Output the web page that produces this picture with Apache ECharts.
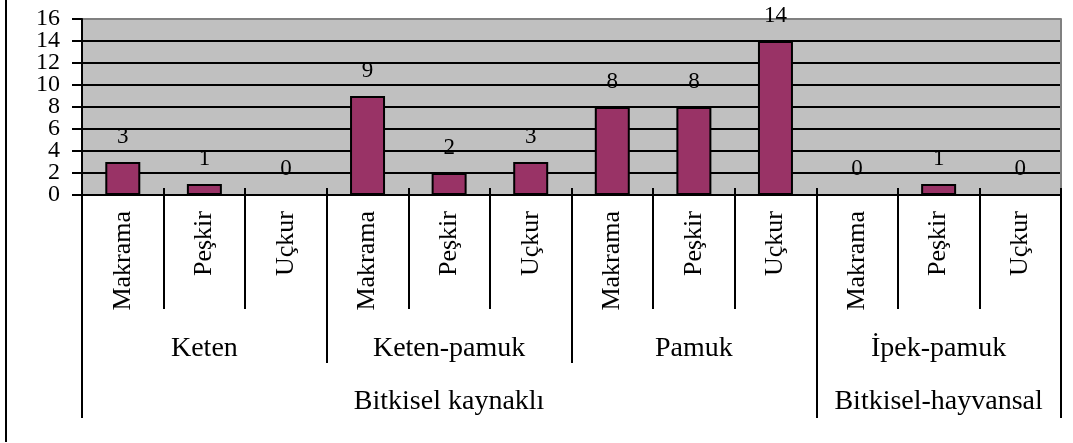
<!DOCTYPE html>
<html>
<head>
<meta charset="utf-8">
<script src="https://cdn.jsdelivr.net/npm/echarts@6/dist/echarts.min.js"></script>
<style>
  html, body { margin: 0; padding: 0; background: #fff; }
  #chart { width: 1073px; height: 443px; }
</style>
</head>
<body>
<div id="chart"></div>
<script>
// kategoriler (alt seviye)
const products = ['Makrama', 'Peşkir', 'Uçkur', 'Makrama', 'Peşkir', 'Uçkur',
  'Makrama', 'Peşkir', 'Uçkur', 'Makrama', 'Peşkir', 'Uçkur']
const counts = [3, 1, 0, 9, 2, 3, 8, 8, 14, 0, 1, 0]
// ikinci seviye: lif türü
const fibres = ['Keten', 'Keten-pamuk', 'Pamuk', 'İpek-pamuk']
// üçüncü seviye: kaynak ve kapsadığı kategori sayısı
const sources = ['Bitkisel kaynaklı', 'Bitkisel-hayvansal']
const sourceSpans = [9, 3]
const yMin = 0
const yMax = 16
const yStep = 2

const font = "'Liberation Serif', 'Times New Roman', serif"

// kaynak ekseni için etiket ve ayraç konumları
const sourceLabels = products.map(() => '')
const sourceBreaks = []
let start = 0
sources.forEach((name, i) => {
  sourceBreaks.push(start)
  sourceLabels[start + Math.floor(sourceSpans[i] / 2)] = name
  start += sourceSpans[i]
})

const chart = echarts.init(document.getElementById('chart'))

const black = { color: '#000', width: 2 }
const plotBox = { left: 82, right: 12, top: 19, bottom: 248 }

// y ekseni etiketleri iki eksene bölünür, böylece hiçbiri gizlenmez
const yLabel = (keep) => ({
  margin: 22,
  color: '#000',
  fontFamily: font,
  fontSize: 24,
  formatter: (v) => (keep(v) ? String(v) : '')
})

const option = {
  animation: false,
  grid: [
    Object.assign({ show: true, backgroundColor: '#c0c0c0', borderWidth: 0 }, plotBox),
    Object.assign({ show: false }, plotBox)
  ],
  graphic: [
    {
      type: 'line',
      shape: { x1: 6, y1: 0, x2: 6, y2: 442 },
      style: { stroke: '#000', lineWidth: 2 }
    }
  ],
  xAxis: [
    // ürünler
    {
      type: 'category',
      gridIndex: 0,
      data: products,
      position: 'bottom',
      axisLine: { show: true, lineStyle: black },
      axisTick: { show: true, interval: 0, length: 114, lineStyle: black },
      axisLabel: {
        show: true,
        interval: 0,
        rotate: 90,
        margin: 16,
        color: '#000',
        fontFamily: font,
        fontSize: 26
      }
    },
    // eksen içindeki kısa çentikler
    {
      type: 'category',
      gridIndex: 0,
      data: products,
      position: 'bottom',
      axisLine: { show: false },
      axisTick: { show: true, interval: 0, inside: true, length: 7, lineStyle: black },
      axisLabel: { show: false }
    },
    // lif türleri
    {
      type: 'category',
      gridIndex: 0,
      data: fibres,
      position: 'bottom',
      axisLine: { show: false },
      axisTick: { show: true, interval: 0, length: 168, lineStyle: black },
      axisLabel: {
        interval: 0,
        margin: 140,
        color: '#000',
        fontFamily: font,
        fontSize: 28
      }
    },
    // kaynak
    {
      type: 'category',
      gridIndex: 0,
      data: sourceLabels,
      position: 'bottom',
      axisLine: { show: false },
      axisTick: {
        show: true,
        interval: (index) => sourceBreaks.includes(index),
        length: 223,
        lineStyle: black
      },
      axisLabel: {
        interval: 0,
        margin: 193,
        color: '#000',
        fontFamily: font,
        fontSize: 28
      }
    },
    // y ekseni ızgarası için gizli eksen
    {
      type: 'category',
      gridIndex: 1,
      data: products,
      show: false
    }
  ],
  yAxis: [
    // ızgara çizgileri
    {
      type: 'value',
      gridIndex: 0,
      position: 'left',
      min: yMin,
      max: yMax,
      interval: yStep,
      axisLine: { show: false },
      axisTick: { show: false },
      axisLabel: { show: false },
      splitLine: {
        show: true,
        lineStyle: {
          color: ['#000', '#000', '#000', '#000', '#000', '#000', '#000', '#000', '#808080'],
          width: 2
        }
      }
    },
    // sağ kenar çizgisi
    {
      type: 'value',
      gridIndex: 0,
      position: 'right',
      min: yMin,
      max: yMax,
      interval: yStep,
      axisLine: { show: true, onZero: false, lineStyle: { color: '#808080', width: 2 } },
      axisTick: { show: false },
      axisLabel: { show: false },
      splitLine: { show: false }
    },
    // görünen y ekseni
    {
      type: 'value',
      gridIndex: 1,
      position: 'left',
      min: yMin,
      max: yMax,
      interval: yStep,
      axisLine: { show: true, onZero: false, lineStyle: black },
      axisTick: { show: true, length: 10, lineStyle: black },
      axisLabel: yLabel((v) => v % 4 === 0),
      splitLine: { show: false }
    },
    {
      type: 'value',
      gridIndex: 1,
      position: 'left',
      min: yMin,
      max: yMax,
      interval: yStep,
      axisLine: { show: false },
      axisTick: { show: false },
      axisLabel: yLabel((v) => v % 4 === 2),
      splitLine: { show: false }
    }
  ],
  series: [
    {
      type: 'bar',
      xAxisIndex: 0,
      yAxisIndex: 0,
      data: counts,
      barWidth: 35,
      itemStyle: { color: '#993366', borderColor: '#000', borderWidth: 2 },
      label: {
        show: true,
        position: 'top',
        distance: 14,
        color: '#000',
        fontFamily: font,
        fontSize: 23
      }
    }
  ]
}

chart.setOption(option)
</script>
</body>
</html>
